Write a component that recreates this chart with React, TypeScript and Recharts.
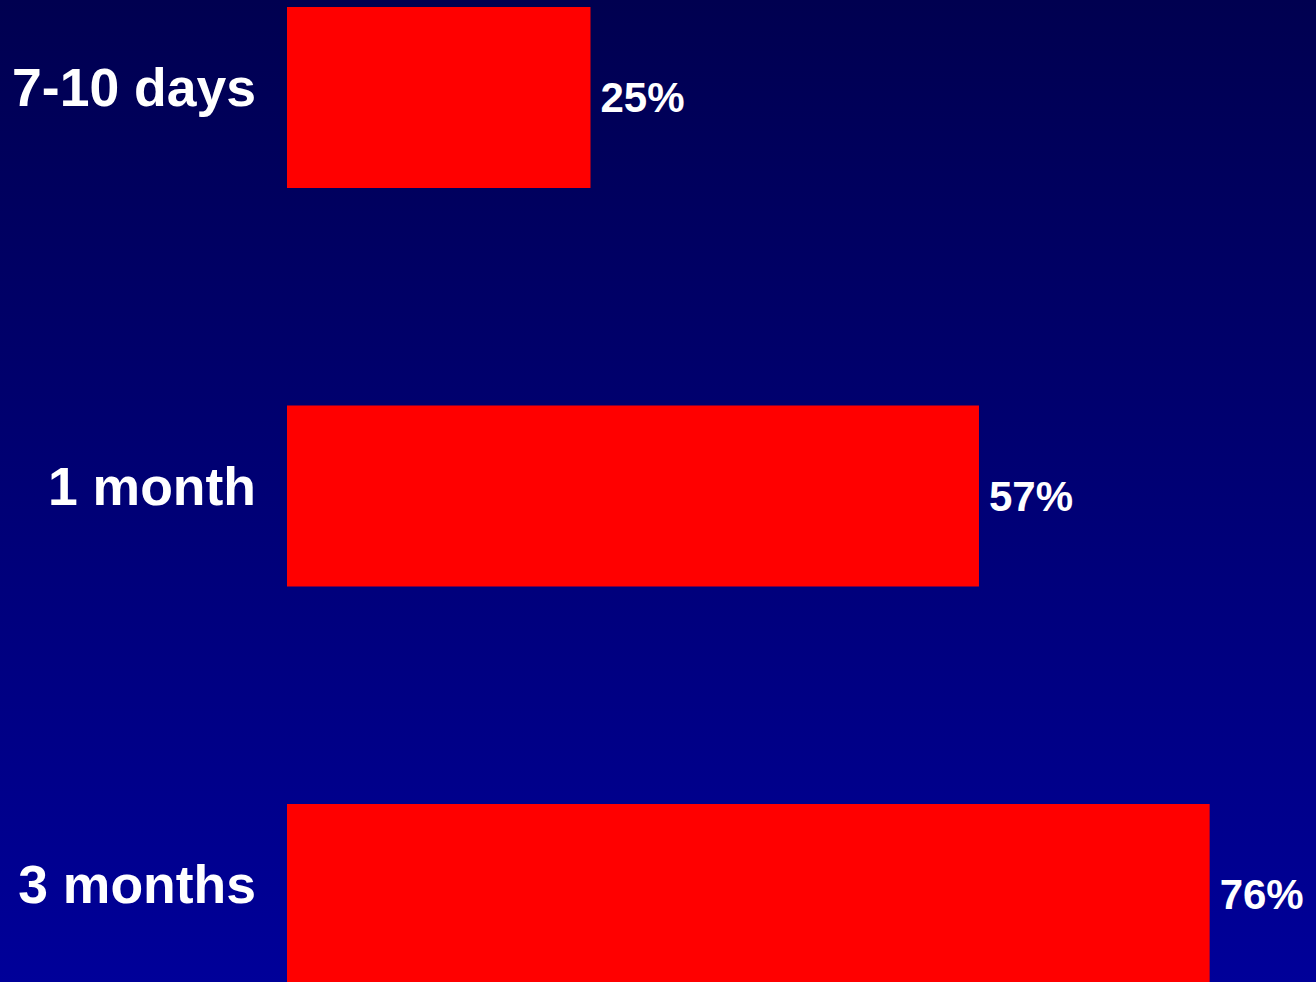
import React from 'react';
import { BarChart, Bar, XAxis, YAxis, LabelList } from 'recharts';

const categories = ['7-10 days', '1 month', '3 months'];
const percentages = [25, 57, 76];

const data = categories.map((name, i) => ({ name, value: percentages[i] }));

const FONT = '"Liberation Sans", Arial, Helvetica, sans-serif';

const CategoryTick = ({ x, y, payload }: any) => (
  <text
    x={x}
    y={y + 9}
    textAnchor="end"
    fill="#ffffff"
    fontSize={53.5}
    fontWeight="bold"
    fontFamily={FONT}
  >
    {payload.value}
  </text>
);

export default function App() {
  return (
    <div
      style={{
        position: 'fixed',
        left: 0,
        top: 0,
        width: 1316,
        height: 982,
        overflow: 'hidden',
        background: 'linear-gradient(to bottom, #000050 0%, #000099 100%)',
      }}
    >
      <div style={{ position: 'absolute', left: 0, top: -101.75 }}>
        <BarChart
          layout="vertical"
          width={1501}
          height={1195.5}
          data={data}
          margin={{ top: 0, right: 0, bottom: 0, left: 0 }}
          barCategoryGap={0}
        >
          <XAxis type="number" domain={[0, 100]} hide />
          <YAxis
            type="category"
            dataKey="name"
            width={287}
            axisLine={false}
            tickLine={false}
            tickSize={0}
            tickMargin={31}
            tick={<CategoryTick />}
            interval={0}
          />
          <Bar dataKey="value" fill="#ff0000" barSize={181} isAnimationActive={false}>
            <LabelList
              dataKey="value"
              position="right"
              offset={10}
              formatter={(v: any) => `${v}%`}
              fill="#ffffff"
              fontSize={42}
              fontWeight="bold"
              fontFamily={FONT}
            />
          </Bar>
        </BarChart>
      </div>
    </div>
  );
}
